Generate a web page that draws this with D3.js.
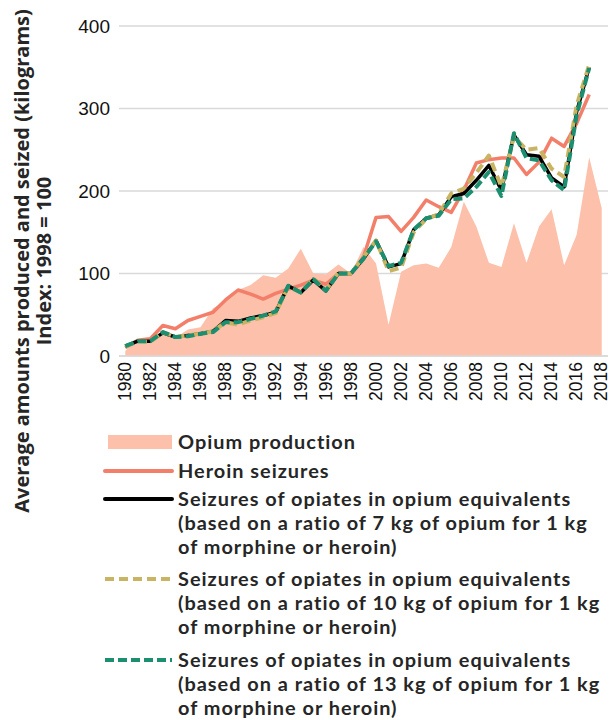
<!DOCTYPE html>
<html>
<head>
<meta charset="utf-8">
<script src="https://cdn.jsdelivr.net/npm/d3@7/dist/d3.min.js"></script>
<style>
  html, body { margin: 0; padding: 0; background: #fff; }
  svg { display: block; }
</style>
</head>
<body>
<svg id="chart" width="609" height="720"></svg>
<script>
// Years on the category axis
const years = d3.range(1980, 2019);
const yearTicks = d3.range(1980, 2019, 2);
const valueTicks = [0, 100, 200, 300, 400];

// Index values (1998 = 100)
const opiumProduction = [6, 20, 22, 27, 22, 32, 35, 58, 66, 80, 86, 98, 95, 106, 130, 100, 99, 111, 100, 132,
  112, 38, 102, 110, 112, 107, 132, 187, 157, 113, 108, 161, 113, 157, 178, 110, 147, 241, 179];
const heroinSeizures = [10, 19, 21, 37, 33, 43, 48, 53, 68, 80, 75, 69, 76, 81, 86, 92, 87, 100, 100, 120,
  168, 169, 151, 168, 189, 181, 174, 201, 234, 238, 240, 240, 220, 235, 264, 254, 282, 317];
const opiates7kg = [12, 18, 18, 28, 23, 25, 27, 30, 43, 42, 46, 49, 53, 85, 77, 92, 79, 100, 100, 118,
  140, 108, 112, 153, 167, 171, 193, 197, 213, 231, 201, 268, 244, 242, 216, 205, 296, 350];
const opiates10kg = [11, 18, 17, 29, 23, 25, 27, 30, 41, 38, 43, 47, 52, 84, 77, 94, 80, 101, 100, 120,
  140, 103, 107, 150, 166, 172, 197, 203, 222, 243, 205, 266, 250, 252, 227, 217, 304, 353];
const opiates13kg = [12, 18, 18, 29, 23, 24, 27, 29, 41, 41, 45, 49, 54, 85, 77, 93, 79, 100, 100, 118,
  139, 109, 113, 153, 167, 170, 190, 191, 205, 223, 194, 270, 240, 237, 213, 201, 292, 349];

const legendItems = [
  { kind: "area", color: "#fcc0ab", lines: ["Opium production"] },
  { kind: "line", color: "#f37f6a", dash: null, width: 4, lines: ["Heroin seizures"] },
  { kind: "line", color: "#000000", dash: null, width: 4,
    lines: ["Seizures of opiates in opium equivalents", "(based on a ratio of 7 kg of opium for 1 kg", "of morphine or heroin)"] },
  { kind: "line", color: "#c9b464", dash: "9,5", width: 4,
    lines: ["Seizures of opiates in opium equivalents", "(based on a ratio of 10 kg of opium for 1 kg", "of morphine or heroin)"] },
  { kind: "line", color: "#1b8f6f", dash: "9,4", width: 4,
    lines: ["Seizures of opiates in opium equivalents", "(based on a ratio of 13 kg of opium for 1 kg", "of morphine or heroin)"] }
];

const svg = d3.select("#chart");
const tickFont = "'Liberation Sans', Arial, sans-serif";
const boldFont = "'Open Sans', 'Noto Sans', sans-serif";
const legendFont = "Lato, 'Open Sans', sans-serif";
const textColor = "#262626";

const x = d3.scalePoint().domain(years).range([119, 608]).padding(0.5);
const y = d3.scaleLinear().domain([0, 400]).range([356, 26]);

// Horizontal gridlines
svg.append("g").selectAll("line")
  .data(valueTicks)
  .join("line")
  .attr("x1", 119).attr("x2", 608)
  .attr("y1", d => y(d)).attr("y2", d => y(d))
  .attr("stroke", "#d9d9d9")
  .attr("stroke-width", 1.3);

// Y axis labels
const yAxis = d3.axisLeft(y).tickValues(valueTicks).tickSize(0).tickPadding(0);
svg.append("g")
  .attr("transform", "translate(110,0)")
  .call(yAxis)
  .call(g => g.select(".domain").remove())
  .call(g => g.selectAll("text")
    .attr("font-family", tickFont)
    .attr("font-size", 19)
    .attr("fill", "#111"));

// X axis labels, rotated
const xAxis = d3.axisBottom(x).tickValues(yearTicks).tickSize(0).tickPadding(0);
svg.append("g")
  .attr("transform", "translate(0,362)")
  .call(xAxis)
  .call(g => g.select(".domain").remove())
  .call(g => g.selectAll("text")
    .attr("font-family", tickFont)
    .attr("font-size", 17.5)
    .attr("fill", "#111")
    .attr("transform", "rotate(-90)")
    .attr("text-anchor", "end")
    .attr("x", 0)
    .attr("y", 0)
    .attr("dy", "0.3em"));

// Opium production area
const area = d3.area()
  .x((d, i) => x(years[i]))
  .y0(y(0))
  .y1(d => y(d));
svg.append("path")
  .datum(opiumProduction)
  .attr("d", area)
  .attr("fill", "#fcc0ab");

// Baseline over the area
svg.append("line")
  .attr("x1", 119).attr("x2", 608)
  .attr("y1", y(0)).attr("y2", y(0))
  .attr("stroke", "#d9d9d9")
  .attr("stroke-width", 1.3);

const line = d3.line().x((d, i) => x(years[i])).y(d => y(d));

const series = [
  { values: heroinSeizures, color: "#f37f6a", width: 3.5, dash: null },
  { values: opiates7kg, color: "#000000", width: 3.5, dash: null },
  { values: opiates10kg, color: "#c9b464", width: 4, dash: "9,5" },
  { values: opiates13kg, color: "#1b8f6f", width: 4, dash: "9,4" }
];

svg.append("g").selectAll("path")
  .data(series)
  .join("path")
  .attr("d", d => line(d.values))
  .attr("fill", "none")
  .attr("stroke", d => d.color)
  .attr("stroke-width", d => d.width)
  .attr("stroke-dasharray", d => d.dash)
  .attr("stroke-linejoin", "round");

// Y axis title
const title = svg.append("text")
  .attr("transform", "translate(29,261) rotate(-90)")
  .attr("text-anchor", "middle")
  .attr("font-family", boldFont)
  .attr("font-weight", "bold")
  .attr("font-size", 20)
  .attr("fill", textColor);
title.append("tspan").attr("x", 0).attr("y", 0).text("Average amounts produced and seized (kilograms)");
title.append("tspan").attr("x", 0).attr("y", 21.5).text("Index: 1998 = 100");

// Legend: one text element per line, 24px apart
const rowTops = [442, 471, 499, 579, 660];
const lineGap = 24;
const legend = svg.append("g");
legendItems.forEach((item, i) => {
  const cy = rowTops[i];
  if (item.kind === "area") {
    legend.append("rect")
      .attr("x", 108).attr("y", cy - 7)
      .attr("width", 64).attr("height", 14)
      .attr("fill", item.color);
  } else {
    legend.append("line")
      .attr("x1", 105).attr("x2", 172)
      .attr("y1", cy).attr("y2", cy)
      .attr("stroke", item.color)
      .attr("stroke-width", item.width)
      .attr("stroke-dasharray", item.dash)
      .attr("stroke-linecap", item.dash ? "butt" : "round");
  }
  item.lines.forEach((s, j) => {
    legend.append("text")
      .attr("font-family", legendFont)
      .attr("font-weight", "bold")
      .attr("font-size", 19.9)
      .attr("letter-spacing", 1.0)
      .attr("fill", textColor)
      .attr("x", 178)
      .attr("y", cy + j * lineGap)
      .attr("dy", "0.35em")
      .text(s);
  });
});
</script>
</body>
</html>
